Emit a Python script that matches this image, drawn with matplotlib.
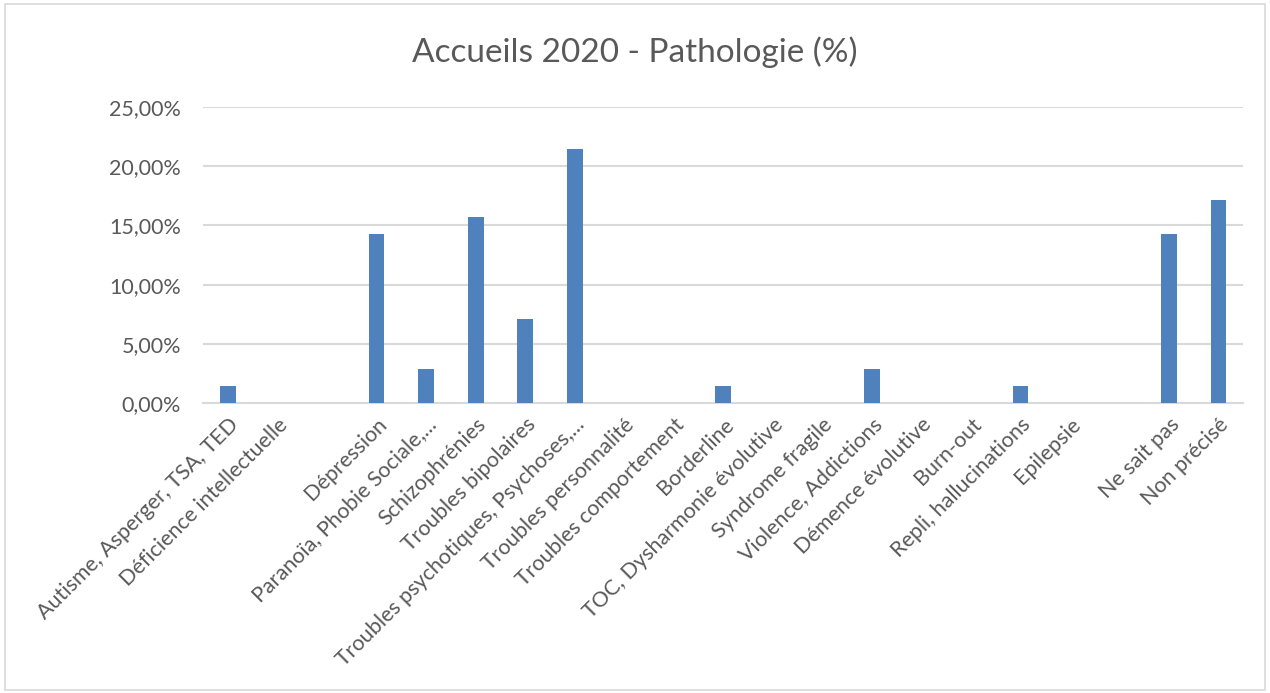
import matplotlib
matplotlib.use("Agg")
import matplotlib.pyplot as plt
from matplotlib.patches import Rectangle
from matplotlib.ticker import FuncFormatter

# Données (en %)
categories = [
    "Autisme, Asperger, TSA, TED",
    "Déficience intellectuelle",
    "",
    "Dépression",
    "Paranoïa, Phobie Sociale,...",
    "Schizophrénies",
    "Troubles bipolaires",
    "Troubles psychotiques, Psychoses,...",
    "Troubles personnalité",
    "Troubles comportement",
    "Borderline",
    "TOC, Dysharmonie évolutive",
    "Syndrome fragile",
    "Violence, Addictions",
    "Démence évolutive",
    "Burn-out",
    "Repli, hallucinations",
    "Epilepsie",
    "",
    "Ne sait pas",
    "Non précisé",
]
valeurs = [1.43, 0, 0, 14.29, 2.86, 15.71, 7.14, 21.43, 0, 0, 1.43, 0, 0,
           2.86, 0, 0, 1.43, 0, 0, 14.29, 17.14]
yticks = [0, 5, 10, 15, 20, 25]

BLEU = "#4F81BD"
GRIS_TXT = "#595959"
GRIS_GRILLE = "#D9D9D9"

plt.rcParams["font.family"] = ["Lato", "DejaVu Sans"]

fig = plt.figure(figsize=(12.7, 6.93), dpi=100)
ax = fig.add_axes([0.160, 0.418, 0.819, 0.428])

x = list(range(len(categories)))
ax.bar(x, valeurs, width=0.32, color=BLEU, zorder=3)

ax.set_xlim(-0.5, len(categories) - 0.5)
ax.set_ylim(0, 25)
ax.set_yticks(yticks)
ax.yaxis.set_major_formatter(FuncFormatter(lambda v, p: ("%.2f%%" % v).replace(".", ",")))
ax.grid(axis="y", color=GRIS_GRILLE, linewidth=1.5, zorder=0)

ax.set_xticks(x)
ax.set_xticklabels(categories, rotation=45, ha="right", rotation_mode="anchor")

for s in ["top", "right", "left"]:
    ax.spines[s].set_visible(False)
ax.spines["bottom"].set_color(GRIS_GRILLE)
ax.spines["bottom"].set_linewidth(1.5)

ax.tick_params(axis="both", length=0, colors=GRIS_TXT, labelsize=15.5)
ax.tick_params(axis="y", pad=16)
ax.tick_params(axis="x", pad=8)

fig.text(0.5, 0.924, "Accueils 2020 - Pathologie (%)", ha="center", va="center",
         fontsize=24, color=GRIS_TXT)

# cadre gris autour du graphique
fig.patches.append(Rectangle((0.004, 0.004), 0.992, 0.99, transform=fig.transFigure,
                             fill=False, edgecolor=GRIS_GRILLE, linewidth=1.2))

fig.savefig("out.png", dpi=100)
